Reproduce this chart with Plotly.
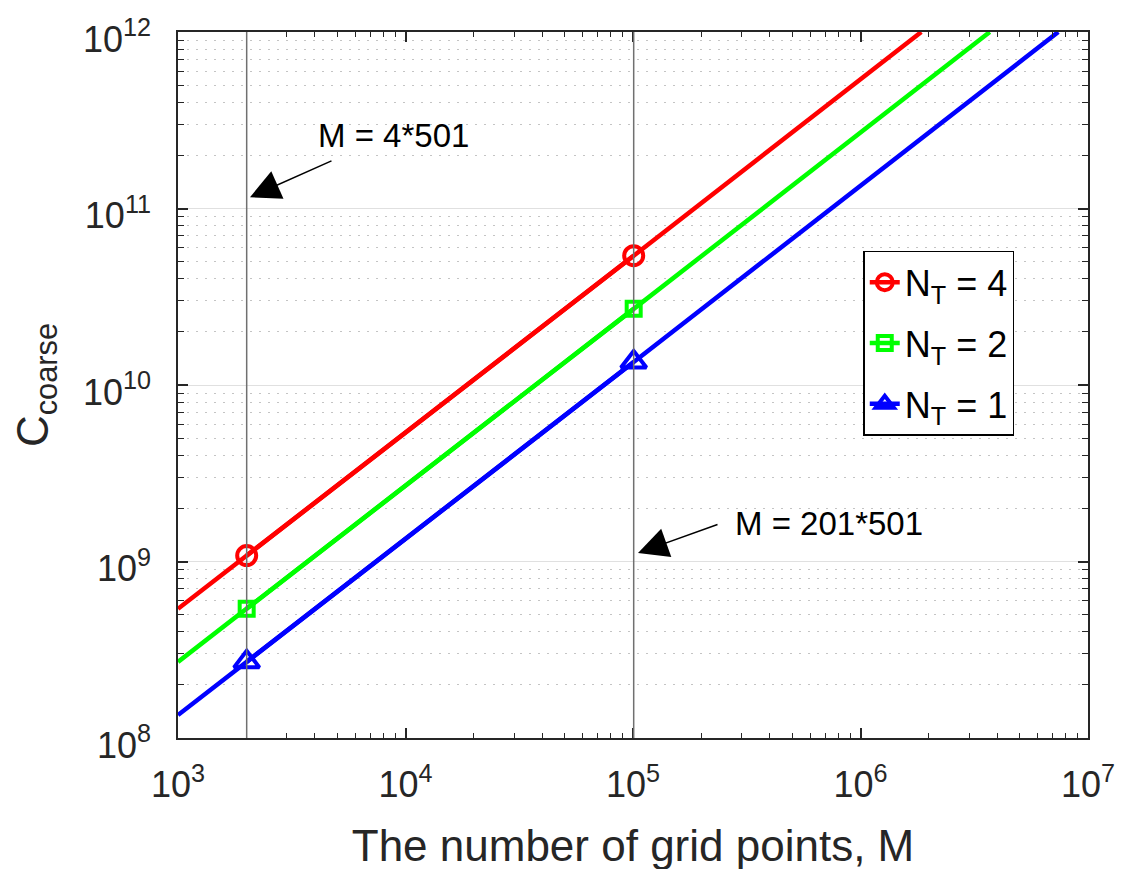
import plotly.graph_objects as go

# ---- data ----
M_line_start = 1000
M_marks = [2004, 100701]          # 4*501 and 201*501
series_names = ["N<sub>T</sub> = 4", "N<sub>T</sub> = 2", "N<sub>T</sub> = 1"]
C_start = [5.4e8, 2.7e8, 1.35e8]  # C at M = 1e3
C_marks = [[1.08e9, 5.4e10], [5.4e8, 2.7e10], [2.7e8, 1.35e10]]
M_end = [1.85e6, 3.7e6, 7.4e6]    # where each line reaches the top of the axes
C_end = [1e12, 1e12, 1e12]

x_ticks = [1e3, 1e4, 1e5, 1e6, 1e7]
x_ticktext = ["10<sup>3</sup>", "10<sup>4</sup>", "10<sup>5</sup>", "10<sup>6</sup>", "10<sup>7</sup>"]
y_ticks = [1e8, 1e9, 1e10, 1e11, 1e12]
y_ticktext = ["10<sup>8</sup>", "10<sup>9</sup>", "10<sup>10</sup>", "10<sup>11</sup>", "10<sup>12</sup>"]

# ---- styles ----
colors = ["#ff0000", "#00ff00", "#0000ff"]
symbols = ["circle-open", "square-open", "triangle-up-open"]
msizes = [19, 14, 22]
FONT = "Arial, Liberation Sans, Helvetica, sans-serif"
AX = "#262626"
LW = 4.5

fig = go.Figure()

# lines
for i in range(3):
    xs = [M_line_start, M_marks[0], M_marks[1], M_end[i]]
    ys = [C_start[i], C_marks[i][0], C_marks[i][1], C_end[i]]
    fig.add_trace(go.Scatter(x=xs, y=ys, mode="lines",
                             line=dict(color=colors[i], width=LW),
                             showlegend=False, hoverinfo="skip"))
# markers (segment between the markers coincides with the line)
for i in range(3):
    fig.add_trace(go.Scatter(x=M_marks, y=C_marks[i], mode="lines+markers",
                             name=series_names[i], legendgroup="g%d" % i,
                             line=dict(color=colors[i], width=LW),
                             marker=dict(symbol=symbols[i], size=msizes[i], color=colors[i],
                                         line=dict(color=colors[i], width=4))))

# vertical reference lines
for m in M_marks:
    fig.add_shape(type="line", xref="x", yref="paper", x0=m, x1=m, y0=0, y1=1,
                  line=dict(color="#707070", width=1.5), layer="above")

# arrows + labels
fig.add_annotation(xref="paper", yref="paper", x=0.0791, y=0.766, ax=83, ay=-37,
                   text="", showarrow=True, arrowhead=2, arrowsize=4, arrowwidth=1.5,
                   arrowcolor="black")
fig.add_annotation(xref="paper", yref="paper", x=0.2368, y=0.853, xanchor="center",
                   yanchor="middle", text="M = 4*501",
                   showarrow=False, font=dict(family=FONT, size=33, color="black"))
fig.add_annotation(xref="paper", yref="paper", x=0.5055, y=0.262, ax=81, ay=-29,
                   text="", showarrow=True, arrowhead=2, arrowsize=4, arrowwidth=1.5,
                   arrowcolor="black")
fig.add_annotation(xref="paper", yref="paper", x=0.7154, y=0.304, xanchor="center",
                   yanchor="middle", text="M = 201*501",
                   showarrow=False, font=dict(family=FONT, size=33, color="black"))

minor_vals_x = [k * 10 ** e for e in range(3, 7) for k in range(2, 10)]
minor_vals_y = [k * 10 ** e for e in range(8, 12) for k in range(2, 10)]

fig.update_layout(
    width=1127, height=869,
    margin=dict(l=170, r=47, t=24, b=139),
    paper_bgcolor="white", plot_bgcolor="white",
    font=dict(family=FONT, color=AX),
    xaxis=dict(type="log", range=[3, 7], tickmode="array", tickvals=x_ticks, ticktext=x_ticktext,
               tickfont=dict(size=36, color=AX), ticks="inside", ticklen=10, tickwidth=1.5,
               tickcolor=AX, showline=True, linecolor=AX, linewidth=1.5, mirror="ticks",
               showgrid=False, zeroline=False, automargin=False, ticklabelstandoff=14,
               ticklabeloverflow="allow",
               minor=dict(tickmode="array", tickvals=minor_vals_x, ticks="inside", ticklen=5,
                          tickwidth=1.2, tickcolor=AX, showgrid=False),
               title=dict(text="The number of grid points, M", font=dict(size=44, color=AX),
                          standoff=26)),
    yaxis=dict(type="log", range=[8, 12], tickmode="array", tickvals=y_ticks, ticktext=y_ticktext,
               tickfont=dict(size=36, color=AX), ticks="inside", ticklen=10, tickwidth=1.5,
               tickcolor=AX, showline=True, linecolor=AX, linewidth=1.5, mirror="ticks",
               showgrid=True, gridcolor="#e0e0e0", gridwidth=1.2, zeroline=False,
               automargin=False, ticklabelstandoff=18, ticklabelshift=7,
               ticklabeloverflow="allow",
               minor=dict(tickmode="array", tickvals=minor_vals_y, ticks="inside", ticklen=6,
                          tickwidth=1.2, tickcolor=AX, showgrid=True, gridcolor="#c4c4c4",
                          griddash="2px,7px", gridwidth=1.3),
               title=dict(text="C<sub>coarse</sub>", font=dict(size=44, color=AX), standoff=30)),
    legend=dict(x=0.836, y=0.69, xanchor="center", yanchor="top",
                bgcolor="white", bordercolor="black", borderwidth=1.5, tracegroupgap=11,
                font=dict(family=FONT, size=36, color="black"), itemsizing="trace"),
)

fig.write_html("out.html")
